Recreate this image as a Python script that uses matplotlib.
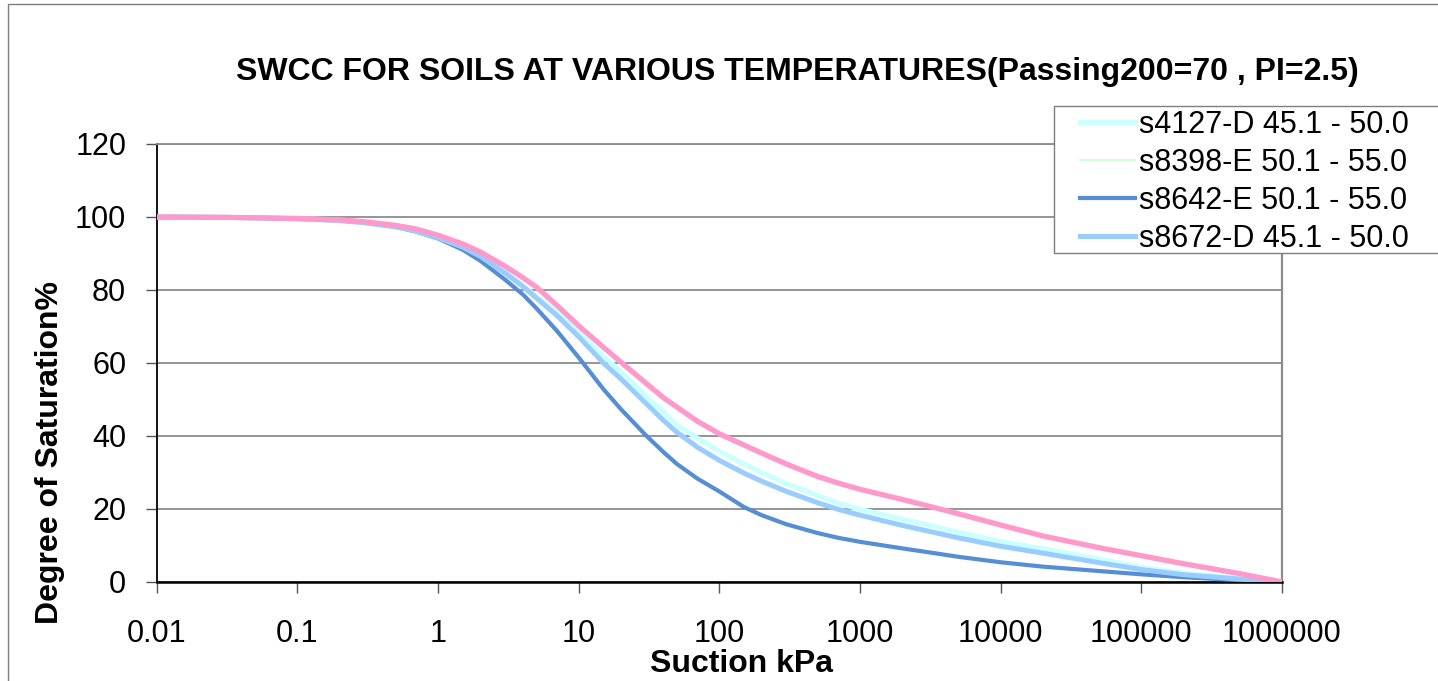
import numpy as np
import matplotlib
matplotlib.use("Agg")
import matplotlib.pyplot as plt
from matplotlib.patches import Rectangle

plt.rcParams['font.family'] = ['Liberation Sans', 'DejaVu Sans']

# Suction (kPa) and degree of saturation (%) for each sample
suction = [0.01, 0.03, 0.1, 0.2, 0.3, 0.5, 0.7, 1, 1.5, 2, 3, 4, 5, 7, 10, 15, 20, 30, 40, 50,
           70, 100, 150, 200, 300, 500, 700, 1000, 2000, 3000, 5000, 1e4, 2e4, 5e4, 1e5, 2e5,
           5e5, 1e6]

s4127_d = [100, 99.9, 99.6, 99.1, 98.6, 97.5, 96.4, 94.7, 92.2, 89.8, 85.0, 81.2, 78.2, 74.0,
           68.4, 62.0, 57.5, 51.0, 46.5, 43.0, 39.4, 35.8, 32.3, 30.0, 27.0, 23.7, 21.6, 19.9,
           17.2, 15.7, 13.6, 11.1, 9.1, 6.3, 4.0, 2.4, 1.0, 0]
s8642_e = [100, 99.9, 99.6, 99.1, 98.5, 97.3, 96.0, 94.1, 91.0, 88.0, 82.8, 78.8, 75.0, 68.8,
           61.5, 52.8, 47.3, 40.2, 35.6, 32.3, 28.3, 24.8, 20.5, 18.3, 15.8, 13.4, 12.1, 11.0,
           9.2, 8.2, 6.9, 5.4, 4.2, 3.0, 2.1, 1.3, 0.5, 0]
s8672_d = [100, 99.9, 99.5, 99.0, 98.4, 97.3, 96.1, 94.3, 91.7, 89.2, 84.6, 81.0, 77.8, 73.0,
           67.2, 60.0, 55.6, 49.0, 44.3, 41.0, 36.9, 33.3, 29.8, 27.6, 24.8, 21.7, 19.9, 18.3,
           15.5, 14.0, 12.1, 9.8, 7.9, 5.3, 3.4, 2.0, 0.8, 0]
s8398_e = [100, 99.9, 99.6, 99.2, 98.7, 97.7, 96.7, 95.0, 92.6, 90.4, 86.5, 83.4, 80.8, 75.8,
           70.2, 64.3, 60.2, 54.5, 50.5, 47.9, 44.0, 40.6, 37.5, 35.3, 32.3, 28.9, 27.1, 25.4,
           22.6, 20.9, 18.7, 15.6, 12.6, 9.4, 7.2, 5.0, 2.3, 0]
extra = [100, 99.9, 99.6, 99.2, 98.7, 97.7, 96.7, 95.0, 92.6, 90.4, 86.5, 83.4, 80.8, 75.8,
         70.2, 64.3, 60.2, 54.5, 50.5, 47.9, 44.0, 40.6, 37.5, 35.3, 32.3, 28.9, 27.1, 25.4,
         22.6, 20.9, 18.7, 15.6, 12.6, 9.4, 7.2, 5.0, 2.3, 0]

xticks = [0.01, 0.1, 1, 10, 100, 1000, 10000, 100000, 1000000]
xtick_labels = ['0.01', '0.1', '1', '10', '100', '1000', '10000', '100000', '1000000']
yticks = [0, 20, 40, 60, 80, 100, 120]

W, H = 1438, 681
fig = plt.figure(figsize=(W / 100, H / 100), dpi=100)
ax = fig.add_axes([0.109, 0.1454, 0.7825, 0.6432])

# chart area border (runs off the right and bottom edges)
fig.patches.append(Rectangle((8 / W, -0.1), 1.2, 1.1 - 4 / H, transform=fig.transFigure,
                             fill=False, edgecolor='#7f7f7f', linewidth=1.0))

h1, = ax.plot(suction, s4127_d, color='#CCFFFF', lw=3.6, label='s4127-D 45.1 - 50.0', zorder=3)
h2, = ax.plot(suction, s8398_e, color='#CCFFCC', lw=1.2, label='s8398-E 50.1 - 55.0', zorder=3)
h3, = ax.plot(suction, s8642_e, color='#558ED5', lw=3.0, label='s8642-E 50.1 - 55.0', zorder=3)
h4, = ax.plot(suction, s8672_d, color='#99CCFF', lw=3.6, label='s8672-D 45.1 - 50.0', zorder=3)
ax.plot(suction, extra, color='#FF99CC', lw=3.8, zorder=4)

ax.set_xscale('log')
ax.set_xlim(0.01, 1e6)
ax.set_ylim(0, 120)
ax.set_xticks(xticks)
ax.set_xticklabels(xtick_labels)
ax.minorticks_off()
ax.set_yticks(yticks)

ax.grid(axis='y', color='#8c8c8c', linewidth=1.3)
ax.set_axisbelow(True)
ax.tick_params(axis='both', labelsize=22, direction='out', length=8, width=1.0, color='#555555')
ax.tick_params(axis='x', pad=19)
ax.tick_params(axis='y', pad=14)

ax.spines['left'].set_color('black')
ax.spines['left'].set_linewidth(1.3)
ax.spines['bottom'].set_color('black')
ax.spines['bottom'].set_linewidth(1.8)
ax.spines['right'].set_color('#8c8c8c')
ax.spines['right'].set_linewidth(1.6)
ax.spines['top'].set_color('#8c8c8c')
ax.spines['top'].set_linewidth(1.3)

fig.text(797 / W, 1 - 72 / H, 'SWCC FOR SOILS AT VARIOUS TEMPERATURES(Passing200=70 , PI=2.5)',
         ha='center', va='center', fontsize=23, fontweight='bold')
fig.text(50 / W, 1 - 452 / H, 'Degree of Saturation%', rotation=90,
         ha='center', va='center', fontsize=23, fontweight='bold')
fig.text(742 / W, 1 - 664 / H, 'Suction kPa', ha='center', va='center',
         fontsize=23, fontweight='bold')

# legend box is cut off by the right edge, so the frame is drawn by hand
fig.patches.append(Rectangle((1054 / W, 1 - 253 / H), 0.5, 147 / H, transform=fig.transFigure,
                             facecolor='white', edgecolor='#7f7f7f', linewidth=1.0, zorder=5))
leg = fig.legend(handles=[h1, h2, h3, h4], loc='upper left',
                 bbox_to_anchor=(1080 / W, 1 - 110 / H), fontsize=22,
                 frameon=False, borderpad=0, handlelength=1.8,
                 handletextpad=0.13, labelspacing=0.26, borderaxespad=0)
leg.set_zorder(6)

fig.savefig('out.png', dpi=100)
